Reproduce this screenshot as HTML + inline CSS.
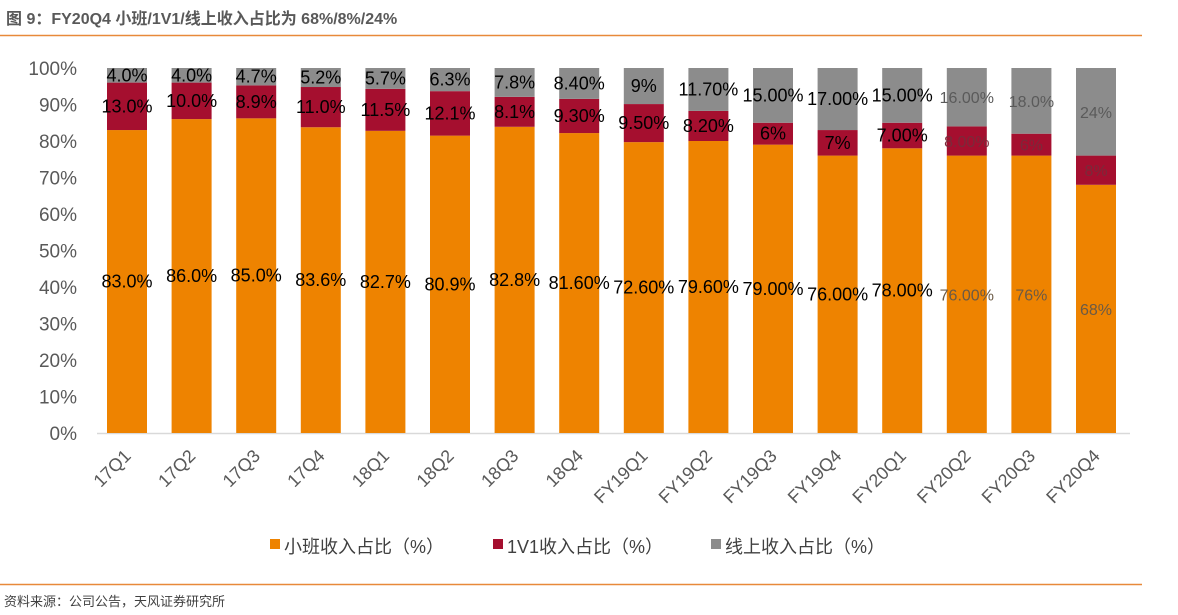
<!DOCTYPE html>
<html><head><meta charset="utf-8"><style>
body{margin:0;background:#fff;width:1178px;height:615px;overflow:hidden;font-family:"Liberation Sans","Noto Sans CJK SC",sans-serif;}
</style></head><body>
<svg id="chart" width="1178" height="615" style="position:absolute;left:0;top:0">
<text x="6" y="24" font-size="16" font-weight="bold" fill="#595959">图 9：FY20Q4 小班/1V1/线上收入占比为 68%/8%/24%</text>
<line x1="0" y1="35.5" x2="1142" y2="35.5" stroke="#e8893a" stroke-width="1.5"/>
<line x1="0" y1="584.5" x2="1142" y2="584.5" stroke="#e8893a" stroke-width="1.5"/>
<text x="4" y="606" font-size="13" fill="#404040">资料来源：公司公告，天风证券研究所</text>
<g id="plot"></g>
<g>
<rect x="270" y="539" width="10" height="10" fill="#ee8300"/>
<text x="284" y="553" font-size="18" fill="#404040">小班收入占比（%）</text>
<rect x="493" y="539" width="10" height="10" fill="#a50f2f"/>
<text x="507" y="553" font-size="18" fill="#404040">1V1收入占比（%）</text>
<rect x="711" y="539" width="10" height="10" fill="#8c8c8c"/>
<text x="725" y="553" font-size="18" fill="#404040">线上收入占比（%）</text>
</g>
</svg>
<script>
const categories=["17Q1","17Q2","17Q3","17Q4","18Q1","18Q2","18Q3","18Q4","FY19Q1","FY19Q2","FY19Q3","FY19Q4","FY20Q1","FY20Q2","FY20Q3","FY20Q4"];
const smallClass=[83.0,86.0,85.0,83.6,82.7,80.9,82.8,81.6,72.6,79.6,79,76,78,76,76,68];
const oneOnOne=[13.0,10.0,8.9,11.0,11.5,12.1,8.1,9.3,9.5,8.2,6,7,7,8,6,8];
const online=[4.0,4.0,4.7,5.2,5.7,6.3,7.8,8.4,9,11.7,15,17,15,16,18,24];
const smallLabels=["83.0%","86.0%","85.0%","83.6%","82.7%","80.9%","82.8%","81.60%","72.60%","79.60%","79.00%","76.00%","78.00%","76.00%","76%","68%"];
const oneLabels=["13.0%","10.0%","8.9%","11.0%","11.5%","12.1%","8.1%","9.30%","9.50%","8.20%","6%","7%","7.00%","8.00%","6%","8%"];
const onlineLabels=["4.0%","4.0%","4.7%","5.2%","5.7%","6.3%","7.8%","8.40%","9%","11.70%","15.00%","17.00%","15.00%","16.00%","18.0%","24%"];
const yTicks=[0,10,20,30,40,50,60,70,80,90,100];
const NS="http://www.w3.org/2000/svg";
const g=document.getElementById('plot');
const y0=433,y100=68,xStart=127,step=64.6,bw=40;
const yS=v=>y0-(y0-y100)*v/100;
const xS=i=>xStart+step*i;
function mk(t,a){const e=document.createElementNS(NS,t);for(const k in a)e.setAttribute(k,a[k]);g.appendChild(e);return e;}
yTicks.forEach(t=>{const e=mk('text',{x:77,y:yS(t)+7,'font-size':19,fill:'#595959','text-anchor':'end'});e.textContent=t+'%';

});
const ax=mk('line',{x1:97,y1:433.5,x2:1130,y2:433.5,stroke:'#d9d9d9','stroke-width':1.5});


categories.forEach((c,i)=>{
const tot=smallClass[i]+oneOnOne[i]+online[i];
const a=smallClass[i]/tot*100,b=oneOnOne[i]/tot*100;
const x=xS(i)-bw/2;
const segs=[[0,a,'#ee8300','bar-small-'+c],[a,a+b,'#a50f2f','bar-1v1-'+c],[a+b,100,'#8c8c8c','bar-online-'+c]];
segs.forEach(s=>{const r=mk('rect',{x:x,y:yS(s[1]),width:bw,height:yS(s[0])-yS(s[1]),fill:s[2]});

});
const faded=i>=13;
const labs=[[a/2,smallLabels[i],faded?'#6b5a45':'#000'],[a+b/2,oneLabels[i],faded?'#7a2a3a':'#000'],[a+b+(100-a-b)/2,onlineLabels[i],faded?'#5a5a5a':'#000']];
labs.forEach((l,k)=>{const e=mk('text',{x:xS(i),y:yS(l[0])+6,'font-size':faded?16:18,fill:l[2],'text-anchor':'middle'});e.textContent=l[1];

});
const t=mk('text',{x:xS(i)+5,y:457,'font-size':18,fill:'#595959','text-anchor':'end',transform:`rotate(-45 ${xS(i)+5} 457)`});t.textContent=c;


});
</script>
</body></html>
